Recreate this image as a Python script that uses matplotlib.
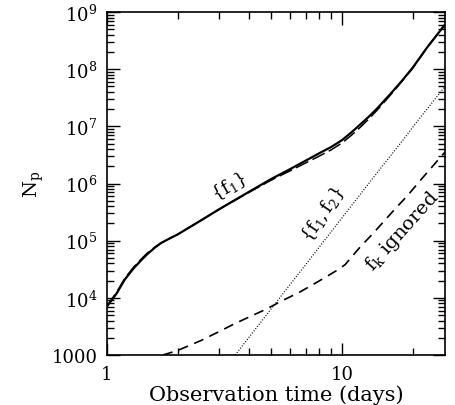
import matplotlib
matplotlib.use("Agg")
import matplotlib.pyplot as plt
from matplotlib.ticker import FixedLocator, FixedFormatter, NullFormatter
import numpy as np

plt.rcParams['font.family'] = ['DejaVu Serif']
plt.rcParams['mathtext.fontset'] = 'dejavuserif'

# {f1} solid curve (days, log10 Np)
t_f1 = [1.0, 1.1, 1.19, 1.3, 1.4, 1.48, 1.6, 1.7, 1.85, 2.0, 2.5, 3.0, 4.0, 5.0, 6.0, 7.0, 8.0, 9.0, 10.0, 11.0, 12.0, 13.0, 14.0, 16.0, 18.0, 20.0, 23.0, 27.4]
logN_f1 = [3.85, 4.08, 4.32, 4.52, 4.66, 4.76, 4.88, 4.96, 5.04, 5.11, 5.35, 5.55, 5.85, 6.08, 6.25, 6.40, 6.53, 6.64, 6.76, 6.90, 7.04, 7.17, 7.30, 7.56, 7.80, 8.03, 8.38, 8.78]

# long-dashed companion curve
t_ld = [1.0, 1.1, 1.19, 1.3, 1.4, 1.48, 1.6, 1.7, 1.85, 2.0, 2.5, 3.0, 4.0, 5.0, 6.0, 7.0, 8.0, 9.0, 10.0, 11.0, 12.0, 13.0, 14.0, 16.0, 18.0, 20.0, 23.0, 27.4]
logN_ld = [3.86, 4.10, 4.34, 4.54, 4.68, 4.78, 4.89, 4.96, 5.04, 5.11, 5.35, 5.55, 5.84, 6.06, 6.22, 6.36, 6.48, 6.59, 6.71, 6.85, 6.99, 7.13, 7.27, 7.54, 7.79, 8.02, 8.38, 8.78]

# {f1,f2} dotted curve
t_f12 = [3.51, 4.0, 5.0, 6.0, 7.0, 8.0, 10.0, 12.0, 15.0, 18.0, 20.9, 24.0, 27.4]
logN_f12 = [3.0, 3.30, 3.81, 4.23, 4.58, 4.89, 5.40, 5.82, 6.33, 6.74, 7.09, 7.40, 7.70]

# f_k ignored short-dashed curve
t_fk = [1.73, 2.0, 2.5, 3.0, 3.5, 4.0, 4.8, 5.5, 6.6, 7.5, 8.5, 9.5, 10.3, 11.0, 12.0, 13.5, 15.0, 16.5, 18.9, 22.0, 27.4]
logN_fk = [3.0, 3.08, 3.25, 3.41, 3.55, 3.66, 3.81, 3.94, 4.10, 4.23, 4.36, 4.48, 4.58, 4.72, 4.90, 5.12, 5.33, 5.52, 5.78, 6.10, 6.55]

xticks = [1, 10]
xticklabels = ['1', '10']
yticks = [1e3, 1e4, 1e5, 1e6, 1e7, 1e8, 1e9]
yticklabels = ['1000', r'$10^4$', r'$10^5$', r'$10^6$', r'$10^7$', r'$10^8$', r'$10^9$']

fig = plt.figure(figsize=(4.56, 4.06), dpi=100)
ax = fig.add_axes([107/456, 1-356/406, 338/456, 343/406])

ax.plot(t_f1, 10**np.array(logN_f1), color='black', lw=1.6, solid_capstyle='round')
ax.plot(t_ld, 10**np.array(logN_ld), color='black', lw=1.1, dashes=(9, 3))
ax.plot(t_f12, 10**np.array(logN_f12), color='black', lw=0.9, dashes=(0.8, 1.4))
ax.plot(t_fk, 10**np.array(logN_fk), color='black', lw=1.2, dashes=(6, 4))

ax.set_xscale('log')
ax.set_yscale('log')
ax.set_xlim(1, 27.4)
ax.set_ylim(1000, 1e9)

ax.xaxis.set_major_locator(FixedLocator(xticks))
ax.xaxis.set_major_formatter(FixedFormatter(xticklabels))
ax.xaxis.set_minor_locator(FixedLocator([2, 3, 4, 5, 6, 7, 8, 9, 20]))
ax.xaxis.set_minor_formatter(NullFormatter())
ax.yaxis.set_major_locator(FixedLocator(yticks))
ax.yaxis.set_major_formatter(FixedFormatter(yticklabels))
ax.yaxis.set_minor_locator(FixedLocator([m * 10**k for k in range(3, 9) for m in range(2, 10)]))
ax.yaxis.set_minor_formatter(NullFormatter())

ax.tick_params(which='both', direction='in', top=True, right=True, width=1.0, labelsize=13, pad=7)
ax.tick_params(which='major', length=9)
ax.tick_params(which='minor', length=5)
for s in ax.spines.values():
    s.set_linewidth(1.2)

ax.set_xlabel('Observation time (days)', fontsize=15, labelpad=1)
ax.set_ylabel(r'N$_\mathrm{p}$', fontsize=14, labelpad=4)

ax.text(0.361, 0.495, r'$\{\mathrm{f}_1\}$', transform=ax.transAxes, rotation=30,
        ha='center', va='center', fontsize=13)
ax.text(0.639, 0.414, r'$\{\mathrm{f}_1,\mathrm{f}_2\}$', transform=ax.transAxes, rotation=56,
        ha='center', va='center', fontsize=13)
ax.text(0.874, 0.362, r'$\mathrm{f}_\mathrm{k}$ ignored', transform=ax.transAxes, rotation=48,
        ha='center', va='center', fontsize=14)

fig.savefig('out.png', dpi=100)
